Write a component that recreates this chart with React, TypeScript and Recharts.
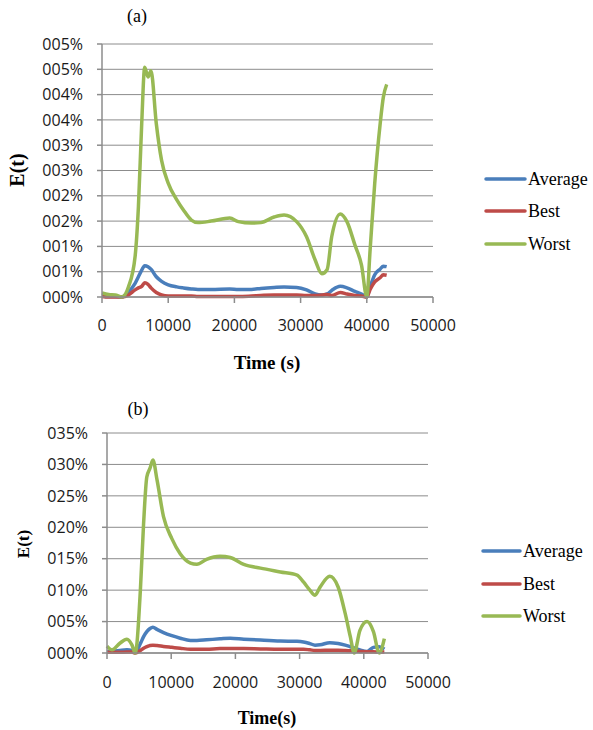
import React from 'react';
import { LineChart, Line, XAxis, YAxis, CartesianGrid } from 'recharts';

// ---------- Panel (a) ----------
const timeA = [0, 1000, 2000, 3000, 4000, 5000, 5500, 6000, 6450, 6950, 7400, 8200, 9000, 10000, 11300, 12300, 13500, 14500, 16500, 19300, 20600, 22600, 24000, 26000, 27500, 29400, 30900, 32200, 33200, 34000, 34700, 36000, 37000, 38200, 39200, 40000, 40500, 41200, 42000, 42500, 43000];
const averageA = [0.02, 0.01, 0.01, 0, 0.1, 0.27, 0.4, 0.53, 0.62, 0.6, 0.55, 0.4, 0.31, 0.24, 0.2, 0.18, 0.16, 0.15, 0.15, 0.16, 0.15, 0.15, 0.17, 0.19, 0.2, 0.19, 0.14, 0.06, 0.04, 0.06, 0.13, 0.21, 0.18, 0.11, 0.06, 0, 0.2, 0.44, 0.55, 0.61, 0.6];
const bestA = [0.01, 0, 0, 0, 0.04, 0.14, 0.18, 0.21, 0.28, 0.25, 0.18, 0.09, 0.04, 0.02, 0.02, 0.02, 0.02, 0.01, 0.01, 0.01, 0.01, 0.02, 0.03, 0.04, 0.04, 0.04, 0.03, 0.03, 0.04, 0.05, 0.03, 0.09, 0.06, 0.03, 0.02, 0, 0.15, 0.3, 0.38, 0.44, 0.43];
const worstA = [0.08, 0.05, 0.04, 0, 0.2, 0.8, 1.78, 3.43, 4.54, 4.35, 4.47, 3.43, 2.7, 2.25, 1.92, 1.72, 1.52, 1.47, 1.5, 1.56, 1.49, 1.46, 1.47, 1.58, 1.62, 1.49, 1.19, 0.73, 0.46, 0.54, 1.19, 1.64, 1.49, 1.03, 0.63, 0, 0.93, 2.25, 3.4, 3.95, 4.2];
const yTicksA = [0, 0.5, 1, 1.5, 2, 2.5, 3, 3.5, 4, 4.5, 5];
const yLabelsA = ['000%', '001%', '001%', '002%', '002%', '003%', '003%', '004%', '004%', '005%', '005%'];

// ---------- Panel (b) ----------
const timeB = [0, 800, 2000, 3100, 3900, 4400, 5200, 5700, 6200, 6700, 7150, 7800, 8800, 10100, 11400, 13000, 14000, 15500, 17600, 19200, 21300, 23900, 27000, 29600, 30600, 31600, 32400, 33200, 34700, 36000, 37100, 37900, 38500, 39400, 40500, 41500, 42400, 43200];
const averageB = [0.15, 0.25, 0.4, 0.5, 0.4, 0.1, 1.5, 2.6, 3.4, 3.9, 4.1, 3.75, 3.25, 2.75, 2.35, 2.0, 2.0, 2.1, 2.25, 2.35, 2.2, 2.05, 1.9, 1.85, 1.75, 1.5, 1.25, 1.3, 1.65, 1.5, 1.25, 1.0, 0.8, 0.5, 0.25, 0.9, 1.0, 0.6];
const bestB = [0.1, 0.1, 0.1, 0.15, 0.15, 0, 0.4, 0.75, 1.0, 1.2, 1.25, 1.2, 1.05, 0.9, 0.75, 0.6, 0.6, 0.6, 0.7, 0.7, 0.7, 0.65, 0.6, 0.6, 0.6, 0.5, 0.4, 0.4, 0.45, 0.45, 0.4, 0.35, 0.3, 0.25, 0.2, 0.2, 0.15, 0.15];
const worstB = [1.1, 0.5, 1.55, 2.2, 1.25, 0, 10, 20.6, 28, 29.4, 30.7, 27.5, 21.7, 18.2, 15.8, 14.3, 14.1, 14.9, 15.4, 15.2, 14.1, 13.5, 12.9, 12.4, 11.3, 10, 9.2, 10.5, 12.2, 10.5, 6.3, 2.6, 0, 3.6, 5.0, 3.4, 0, 2.3];
const yTicksB = [0, 5, 10, 15, 20, 25, 30, 35];
const yLabelsB = ['000%', '005%', '010%', '015%', '020%', '025%', '030%', '035%'];

const xTicks = [0, 10000, 20000, 30000, 40000, 50000];
const seriesNames = ['Average', 'Best', 'Worst'];
const seriesColors = ['#4A7EBB', '#BE4B48', '#98B954'];

const rowsA = timeA.map((t, i) => ({ t, Average: averageA[i], Best: bestA[i], Worst: worstA[i] }));
const rowsB = timeB.map((t, i) => ({ t, Average: averageB[i], Best: bestB[i], Worst: worstB[i] }));

const TICK_FONT = "'Open Sans', sans-serif";
const SERIF = "'Liberation Serif', 'Times New Roman', serif";
const GRID = '#8C8C8C';

type PanelProps = {
  top: number;
  height: number;
  margin: { top: number; right: number; left: number; bottom: number };
  data: any[];
  yTicks: number[];
  yLabels: string[];
  xTickMargin: number;
};

function Panel({ top, height, margin, data, yTicks, yLabels, xTickMargin }: PanelProps) {
  const tickStyle = { fontFamily: TICK_FONT, fontSize: 16, fill: '#1a1a1a' };
  return (
    <div style={{ position: 'absolute', left: 0, top }}>
      <LineChart width={593} height={height} data={data} margin={margin}>
        <CartesianGrid vertical={false} stroke={GRID} strokeWidth={1} />
        <XAxis
          dataKey="t"
          type="number"
          domain={[0, 50000]}
          ticks={xTicks}
          interval={0}
          height={40}
          tickSize={6}
          tickMargin={xTickMargin}
          tick={tickStyle}
          axisLine={{ stroke: GRID, strokeWidth: 1.5 }}
          tickLine={{ stroke: GRID, strokeWidth: 1.5 }}
        />
        <YAxis
          type="number"
          domain={[yTicks[0], yTicks[yTicks.length - 1]]}
          ticks={yTicks}
          interval={0}
          width={60}
          tickSize={5}
          tickMargin={14}
          tick={tickStyle}
          tickFormatter={(v: number, i: number) => yLabels[i]}
          axisLine={{ stroke: GRID, strokeWidth: 1.5 }}
          tickLine={{ stroke: GRID, strokeWidth: 1.5 }}
        />
        {seriesNames.map((name, i) => (
          <Line
            key={name}
            dataKey={name}
            type="monotone"
            stroke={seriesColors[i]}
            strokeWidth={3.5}
            dot={false}
            activeDot={false}
            isAnimationActive={false}
          />
        ))}
      </LineChart>
    </div>
  );
}

function LegendBlock({ x, ys, lineLen }: { x: number; ys: number[]; lineLen: number }) {
  return (
    <g>
      {seriesNames.map((name, i) => (
        <g key={name}>
          <line x1={x} x2={x + lineLen} y1={ys[i]} y2={ys[i]} stroke={seriesColors[i]} strokeWidth={3.5} strokeLinecap="round" />
          <text x={x + lineLen + 3} y={ys[i] + 6} fontFamily={SERIF} fontSize={18} fill="#000">{name}</text>
        </g>
      ))}
    </g>
  );
}

export default function App() {
  return (
    <div style={{ position: 'absolute', left: 0, top: 0, width: 593, height: 730, background: '#fff' }}>
      <Panel
        top={0}
        height={380}
        margin={{ top: 44, right: 160, left: 42, bottom: 43 }}
        data={rowsA}
        yTicks={yTicksA}
        yLabels={yLabelsA}
        xTickMargin={17}
      />
      <Panel
        top={380}
        height={350}
        margin={{ top: 53, right: 165, left: 47, bottom: 37 }}
        data={rowsB}
        yTicks={yTicksB}
        yLabels={yLabelsB}
        xTickMargin={18}
      />
      <svg width={593} height={730} style={{ position: 'absolute', left: 0, top: 0, pointerEvents: 'none' }}>
        <text x={137} y={22} textAnchor="middle" fontFamily={SERIF} fontSize={18} fill="#000">(a)</text>
        <text x={138} y={415} textAnchor="middle" fontFamily={SERIF} fontSize={18} fill="#000">(b)</text>
        <text transform="translate(24,170) rotate(-90)" textAnchor="middle" fontFamily={SERIF} fontSize={20} fontWeight="bold" fill="#000">E(t)</text>
        <text transform="translate(29,544) rotate(-90)" textAnchor="middle" fontFamily={SERIF} fontSize={17} fontWeight="bold" fill="#000">E(t)</text>
        <text x={267} y={369} textAnchor="middle" fontFamily={SERIF} fontSize={19} fontWeight="bold" fill="#000">Time (s)</text>
        <text x={267} y={724} textAnchor="middle" fontFamily={SERIF} fontSize={18} fontWeight="bold" fill="#000">Time(s)</text>
        <LegendBlock x={486} ys={[179, 211, 244]} lineLen={39} />
        <LegendBlock x={483} ys={[551, 584, 616]} lineLen={37} />
      </svg>
    </div>
  );
}
